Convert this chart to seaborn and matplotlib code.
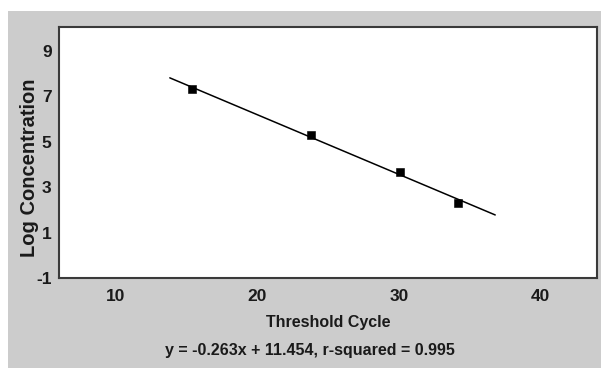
import numpy as np
import pandas as pd
import matplotlib
matplotlib.use("Agg")
import matplotlib.pyplot as plt
from matplotlib.patches import Rectangle
from matplotlib.ticker import MultipleLocator, FuncFormatter
import seaborn as sns

# data
threshold_cycle = [15.4, 23.8, 30.1, 34.2]
log_conc = [7.3, 5.3, 3.65, 2.3]
slope = -0.263
intercept = 11.454
r_squared = 0.995
fit_x_range = [13.85, 36.8]
x_tick_labels = [10, 20, 30, 40]
y_tick_labels = [-1, 1, 3, 5, 7, 9]

sns.set_style("white")
plt.rcParams["font.family"] = ["Liberation Sans", "DejaVu Sans"]
plt.rcParams["font.weight"] = "bold"

fig = plt.figure(figsize=(6.01, 3.68), dpi=100)
fig.patch.set_facecolor("white")
gray = "#cccccc"
fig.patches.append(Rectangle((8 / 601, 0), 1 - 8 / 601, 1 - 11 / 368,
                             transform=fig.transFigure, facecolor=gray,
                             edgecolor="none", zorder=-10))

ax = fig.add_axes([58.5 / 601, 1 - 278 / 368, (597.3 - 58.5) / 601, (278 - 27) / 368])
ax.set_facecolor("white")

pts = pd.DataFrame({"x": threshold_cycle, "y": log_conc})
fit = pd.DataFrame({"x": fit_x_range,
                    "y": [slope * v + intercept for v in fit_x_range]})

sns.lineplot(data=fit, x="x", y="y", ax=ax, color="black", linewidth=1.1)
sns.scatterplot(data=pts, x="x", y="y", ax=ax, color="black", marker="s",
                s=26, edgecolor="black", zorder=3)

ax.set_xlim(6, 44)
ax.set_ylim(-1, 10.05)
ax.xaxis.set_major_locator(MultipleLocator(5))
ax.yaxis.set_major_locator(MultipleLocator(1))
ax.xaxis.set_major_formatter(FuncFormatter(lambda v, p: f"{int(round(v))}" if int(round(v)) in x_tick_labels else ""))
ax.yaxis.set_major_formatter(FuncFormatter(lambda v, p: f"{int(round(v))}" if int(round(v)) in y_tick_labels else ""))
ax.tick_params(axis="both", direction="inout", length=6, width=1, color="#333333",
               labelsize=12.5, labelcolor="#1a1a1a")
ax.tick_params(axis="x", pad=5)
ax.tick_params(axis="y", pad=2)
for lab in ax.get_xticklabels() + ax.get_yticklabels():
    lab.set_fontweight("bold")

for s in ax.spines.values():
    s.set_visible(True)
    s.set_color("#3a3a3a")
    s.set_linewidth(1.5)

ax.set_xlabel("Threshold Cycle", fontsize=11.5, fontweight="bold", color="#1a1a1a", labelpad=8)
ax.set_ylabel("Log Concentration", fontsize=14.5, fontweight="bold", color="#1a1a1a")
ax.yaxis.set_label_coords(-19 / (597.3 - 58.5), 0.44)

fig.text(310 / 601, 1 - 350 / 368,
         f"y = {slope}x + {intercept}, r-squared = {r_squared}",
         ha="center", va="center", fontsize=11.5, fontweight="bold", color="#1a1a1a")

fig.savefig("out.png", dpi=100, facecolor=fig.get_facecolor())
